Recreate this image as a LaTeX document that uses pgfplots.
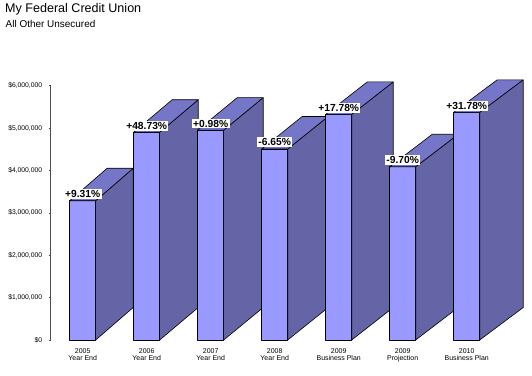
\documentclass[border=0pt]{standalone}
\usepackage{pgfplots}
\pgfplotsset{compat=1.18}
\usepackage{pgfplotstable}
\usepackage{fontspec}
\setmainfont{Liberation Sans}
\definecolor{frontc}{HTML}{9999FF}
\definecolor{sidec}{HTML}{6464A6}
\definecolor{topc}{HTML}{7676C8}

\pgfplotstableread{
x y lab
0 3.285 +9.31
1 4.90 +48.73
2 4.95 +0.98
3 4.505 -6.65
4 5.32 +17.78
5 4.085 -9.70
6 5.37 +31.78
}\data

\begin{document}
\begin{tikzpicture}
\useasboundingbox (-50.7bp,-36bp) rectangle (481.3bp,340bp);
\begin{axis}[
  scale only axis, width=448bp, height=254.4bp,
  xmin=-0.5, xmax=6.5, ymin=0, ymax=6,
  clip=false,
  axis lines*=left,
  x axis line style={draw=none},
  y axis line style={draw=black!70, line width=0.6bp},
  xtick={0,...,6},
  xtick style={draw=none},
  xticklabels={{2005\\Year End},{2006\\Year End},{2007\\Year End},{2008\\Year End},{2009\\Business Plan},{2009\\Projection},{2010\\Business Plan}},
  xticklabel style={align=center, font=\fontsize{7}{7.6}\selectfont, yshift=-3bp},
  ytick={0,...,6},
  yticklabels={\$0,{\$1,000,000},{\$2,000,000},{\$3,000,000},{\$4,000,000},{\$5,000,000},{\$6,000,000}},
  yticklabel style={font=\fontsize{6.8}{7}\selectfont, xshift=-3bp},
  ytick style={draw=black!70, line width=0.5bp},
  tick align=outside, major tick length=2bp,
  /pgf/number format/assume math mode=true,
]
\addplot[scatter, only marks, mark=*, mark size=0pt,
  visualization depends on={\thisrow{y} \as \vv},
  visualization depends on={\thisrow{x} \as \xx},
  scatter/@pre marker code/.code={%
    \pgfmathsetmacro\hh{\vv*42.4}%
    \pgfmathsetmacro\dx{37.5+\xx}%
    \pgfmathsetmacro\rx{13+\dx}%
    \pgfmathsetmacro\lx{-13+\dx}%
    \filldraw[fill=frontc, draw=black, line width=0.6bp, line join=round] (-13bp,-\hh bp) rectangle (13bp,0bp);
    \filldraw[fill=sidec, draw=black, line width=0.6bp, line join=round] (13bp,0bp) -- (\rx bp,32.5bp) -- (\rx bp,32.5bp-\hh bp) -- (13bp,-\hh bp) -- cycle;
    \filldraw[fill=topc, draw=black, line width=0.6bp, line join=round] (-13bp,0bp) -- (13bp,0bp) -- (\rx bp,32.5bp) -- (\lx bp,32.5bp) -- cycle;
    \begin{scope}},
  scatter/@post marker code/.code={\end{scope}},
] table[x=x, y=y] {\data};
\addplot[only marks, mark=none,
  point meta=explicit symbolic,
  nodes near coords={\pgfplotspointmeta\%},
  nodes near coords style={anchor=south, fill=white, inner sep=1.3bp, yshift=1.5bp, font=\bfseries\fontsize{10.3}{12}\selectfont},
] table[x=x, y=y, meta=lab] {\data};
\end{axis}
\node[anchor=base west, inner sep=0, font=\fontsize{12.6}{14}\selectfont] at (-45.7bp,327.7bp) {My Federal Credit Union};
\node[anchor=base west, inner sep=0, font=\fontsize{10}{12}\selectfont] at (-45.2bp,312.7bp) {All Other Unsecured};
\end{tikzpicture}
\end{document}
